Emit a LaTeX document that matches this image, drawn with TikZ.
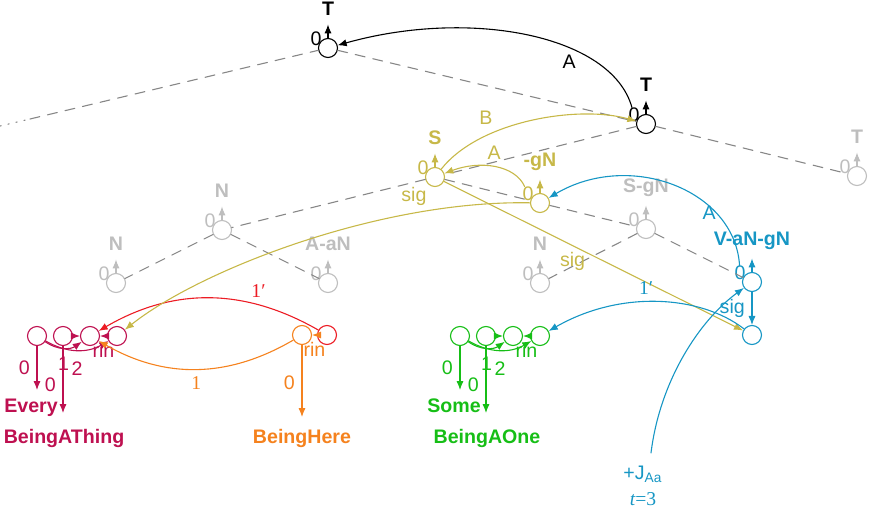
\documentclass[tikz,border=0pt]{standalone}
\usepackage{fontspec}
\setmainfont{Liberation Sans}
\newfontfamily\serifnum{Liberation Serif}
\usetikzlibrary{arrows.meta}
\definecolor{catolive}{RGB}{199,184,72}
\definecolor{catblue}{RGB}{22,150,196}
\definecolor{catcrimson}{RGB}{190,16,80}
\definecolor{catred}{RGB}{236,28,36}
\definecolor{catorange}{RGB}{245,130,30}
\definecolor{catgreen}{RGB}{22,190,22}
\definecolor{catgray}{RGB}{190,190,190}
\definecolor{edgegray}{RGB}{135,135,135}
\newcommand{\labfont}{\fontsize{9.8}{10}\selectfont}
\begin{document}
\begin{tikzpicture}[x=0.5pt, y=-0.5pt, line join=round, line cap=round, line width=0.55pt,
  >={Latex[length=4.5pt,width=3.6pt]},
  circ/.style={circle, draw, minimum size=9.5pt, inner sep=0pt},
  treeedge/.style={edgegray, dash pattern=on 5pt off 4pt},
  cat/.style={font=\labfont\bfseries, inner sep=1pt, above=3pt},
  zero/.style={font=\labfont, inner sep=0pt},
  lab/.style={font=\labfont},
  num/.style={font=\labfont\serifnum},
  word/.style={font=\labfont\bfseries, anchor=base, inner sep=0pt}]
\useasboundingbox (0,0) rectangle (869,509);
% derivation tree
\foreach \n/\x/\y/\lbl/\col in {T1/328/48/T/black, T2/646/124/T/black, T3/857/176/T/catgray,
    S/435/177/S/catolive, gN/540/203/-gN/catolive, N1/222/230/N/catgray,
    SgN/646/229/S-gN/catgray, N2/116/283/N/catgray, AaN/328/283/A-aN/catgray,
    N3/540/283/N/catgray, VaNgN/752/282/V-aN-gN/catblue}{
  \node[circ, draw=\col] (\n) at (\x,\y) {};
  \draw[->, \col] (\n.north) -- ++(0,-13.5) node[cat, text=\col] (l\n) {\lbl};
  \node[zero, text=\col] (z\n) at ([shift={(-12,-9)}]\n) {0};
}
\coordinate (dstart) at (0,126);
\coordinate (dl) at (30,119);
\draw[edgegray, dash pattern=on 0.6pt off 3.5pt] (dstart) -- (dl);
\draw[treeedge] (dl) -- (T1) -- (T2) -- (T3);
\draw[treeedge] (T2) -- (S) -- (N1) -- (N2);
\draw[treeedge] (N1) -- (AaN);
\draw[treeedge] (S) -- (gN) -- (SgN) -- (N3);
\draw[treeedge] (SgN) -- (VaNgN);
% word groups
\foreach \g/\x/\col/\wa/\wb in {c/37/catcrimson/Every/BeingAThing, g/460/catgreen/Some/BeingAOne}{
  \node[circ, draw=\col] (\g1) at (\x,336) {};
  \node[circ, draw=\col] (\g2) at (\x+26,336) {};
  \node[circ, draw=\col] (\g3) at (\x+53,336) {};
  \node[circ, draw=\col] (\g4) at (\x+80,336) {};
  \node[word, text=\col] (\g-a) at (\x-6,412) {\wa};
  \node[word, text=\col] (\g-b) at (\x+27,443) {\wb};
  \coordinate (\g-e1) at (\x,390);
  \coordinate (\g-e2) at (\x+26,413);
  \begin{scope}[\col]
    \draw[->] (\g1) -- node[lab, left] {0} (\g-e1);
    \draw[->] (\g2) -- node[lab, left, pos=0.58] {0} (\g-e2);
    \draw[->] (\g2) -- (\g3);
    \draw[->] (\g4) -- node[lab, below] {rin} (\g3);
    \draw[->] (\g1) to[bend right=35] node[lab, below=1pt] {1} (\g3);
    \draw[->] (\g1) to[bend right=30] node[lab, below=2pt] {2} (\g4);
  \end{scope}
}
\node[circ, draw=catorange] (o1) at (302,335) {};
\node[circ, draw=catred] (r1) at (327,335) {};
\node[word, text=catorange] (o-a) at (302,443) {BeingHere};
\coordinate (o-e) at (302,417);
\draw[->, catorange] (r1) -- node[lab, below] {rin} (o1);
\draw[->, catorange] (o1) -- node[lab, left, pos=0.53] {0} (o-e);
\draw[->, catred] (r1) to[bend right=30] node[num, above, pos=0.27] {1′} (c3);
\draw[->, catorange] (o1) to[bend left=30] node[num, below] {1} (c3);
% links
\draw[->] (zT2) .. controls (612,35) and (470,8) .. node[lab, below, pos=0.36] {A} (T1);
\draw[->, catolive] (S) .. controls (480,120) and (580,105) .. node[lab, pos=0.28, above=2pt] {B} (T2);
\draw[->, catolive] (zgN) .. controls (515,165) and (480,160) .. node[lab, above, pos=0.5] {A} (S);
\draw[->, catolive] (gN) .. controls (380,200) and (200,270) .. node[lab, above, pos=0.25] {sig} (c4);
\node[circ, draw=catblue] (b2) at (752,335) {};
\draw[->, catolive] (S) -- node[lab, below, pos=0.43] {sig} (b2);
\draw[->, catblue] (VaNgN) -- node[lab, left] {sig} (b2);
\draw[->, catblue] (zVaNgN) .. controls (735,190) and (630,150) .. node[lab, left, inner sep=0pt, pos=0.27] {A} (gN);
\draw[->, catblue] (b2) .. controls (700,295) and (620,290) .. node[num, above, pos=0.55] {1′} (g4);
\node[lab, text=catblue, align=center] (J) at (643,486) {+J\textsubscript{Aa}\\[3pt]{\serifnum\itshape t}{\serifnum =3}};
\draw[->, catblue] ([shift={(8,-6)}]J.north) .. controls (660,380) and (700,320) .. (VaNgN);
\end{tikzpicture}
\end{document}
